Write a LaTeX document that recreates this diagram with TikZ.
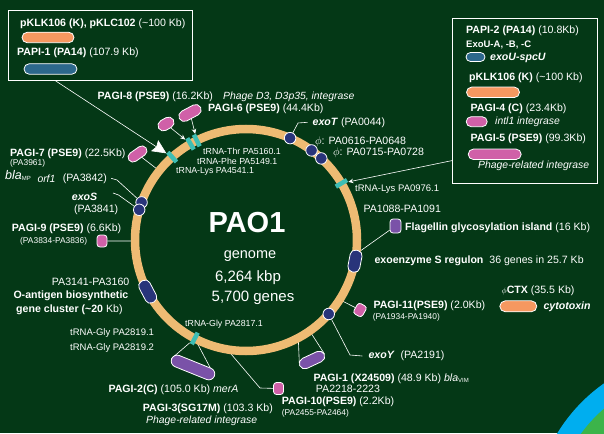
\documentclass[tikz,border=0pt]{standalone}
\usepackage{fontspec}
\setmainfont{Liberation Sans}
\usetikzlibrary{arrows.meta,shapes.misc,calc}

\definecolor{bggreen}{RGB}{4,56,22}
\definecolor{ringor}{RGB}{238,187,115}
\definecolor{trnateal}{RGB}{62,190,180}
\definecolor{navy}{RGB}{40,52,122}
\definecolor{islpurple}{RGB}{122,82,168}
\definecolor{islpink}{RGB}{208,96,168}
\definecolor{plorange}{RGB}{246,152,96}
\definecolor{plblue}{RGB}{44,104,140}
\definecolor{cornerblue}{RGB}{0,174,239}
\definecolor{cornergreen}{RGB}{60,180,74}

\pgfdeclarelayer{back}
\pgfsetlayers{back,main}

\tikzset{
  lbl/.style={text=white, inner sep=0pt, anchor=west, font=\fontsize{10.6}{12}\selectfont},
  itlbl/.style={lbl, font=\fontsize{10.4}{12}\selectfont\itshape},
  bilbl/.style={lbl, font=\fontsize{10.6}{12}\selectfont\bfseries\itshape},
  trlbl/.style={lbl, font=\fontsize{9.5}{11}\selectfont},
  smlbl/.style={lbl, font=\fontsize{8.8}{10}\selectfont},
  sublbl/.style={lbl, font=\fontsize{8.4}{10}\selectfont},
  pill/.style={rounded rectangle, draw=white, line width=0.8pt, inner sep=0pt, minimum height=10.5pt},
  island/.style={rectangle, rounded corners=3pt, draw=white, line width=0.8pt, inner sep=0pt},
  gene/.style={circle, fill=navy, draw=white, line width=0.8pt, inner sep=0pt, minimum size=11.5pt},
  trna/.style={rectangle, fill=trnateal, inner sep=0pt, minimum width=13pt, minimum height=4.5pt},
  lead/.style={draw=white, line width=0.6pt},
  legbox/.style={draw=white, line width=0.8pt, inner sep=0pt},
}

\newcommand{\blasub}[1]{\raisebox{-1pt}{\fontsize{6}{7}\selectfont #1}}

\begin{document}
\begin{tikzpicture}[x=1pt,y=-1pt]
  \useasboundingbox (0,0) rectangle (604,433);
  \begin{pgfonlayer}{back}
    \fill[bggreen] (0,0) rectangle (604,433);
    \begin{scope}
      \clip (0,0) rectangle (604,433);
      \fill[cornerblue] (700,520) circle[radius=167];
      \fill[cornergreen] (700,520) circle[radius=147];
    \end{scope}
  \end{pgfonlayer}

  \coordinate (c) at (246,240);
  \draw[ringor, line width=8.5pt] (c) circle[radius=111];

  \node[trna, rotate=131.7] (tLys) at ($(c)+(-131.7:111)$) {};
  \node[trna, rotate=120] (tThr) at ($(c)+(-120:111)$) {};
  \node[trna, rotate=116.3] (tPhe) at ($(c)+(-116.3:111)$) {};
  \node[trna, rotate=30.7] (tLysB) at ($(c)+(-30.7:111)$) {};
  \node[trna, rotate=-117.5] (tGly) at ($(c)+(117.5:111)$) {};

  \node[gene] (gExoT) at ($(c)+(-66.6:111)$) {};
  \node[gene] (gPhiA) at ($(c)+(-53.8:111)$) {};
  \node[gene] (gPhiB) at ($(c)+(-47.3:111)$) {};
  \node[gene] (gExoSa) at ($(c)+(-160.2:111)$) {};
  \node[gene] (gExoSb) at ($(c)+(-164.2:111)$) {};
  \node[gene] (gExoY) at ($(c)+(41.8:111)$) {};

  \node[island, rounded corners=5pt, fill=navy, minimum width=22pt, minimum height=12pt, rotate=79] (bExoS) at ($(c)+(11:111)$) {};
  \node[island, rounded corners=5pt, fill=navy, minimum width=24pt, minimum height=12pt, rotate=-62.3] (bOant) at ($(c)+(152.3:111)$) {};

  \coordinate (rFla) at ($(c)+(7.2:111)$);
  \coordinate (r9) at ($(c)+(179.5:111)$);
  \coordinate (r11) at ($(c)+(32.5:111)$);
  \coordinate (r10) at ($(c)+(99.8:111)$);
  \coordinate (r7) at ($(c)+(-141.4:111)$);
  \coordinate (rP1a) at ($(c)+(61.9:111)$);
  \coordinate (rP1b) at ($(c)+(55:111)$);
  \coordinate (kExoS) at (113,193);

  \node[island, fill=islpurple, minimum width=11pt, minimum height=14pt] (bFla) at (395.5,226) {};
  \node[island, fill=islpink, minimum width=10pt, minimum height=12pt] (pagi9) at (102,241) {};
  \node[island, fill=islpink, minimum width=10pt, minimum height=12pt, rotate=-30] (pagi11) at (360,310) {};
  \node[island, fill=islpink, minimum width=10pt, minimum height=12pt] (pagi10) at (278.5,388.5) {};
  \node[pill, fill=islpink, minimum width=21pt, minimum height=10pt, rotate=35] (pagi7) at (137.5,154) {};
  \node[pill, fill=islpink, minimum width=17pt, minimum height=11pt, rotate=30] (pagi8) at (166,124) {};
  \node[pill, fill=islpink, minimum width=24pt, minimum height=11pt, rotate=28] (pagi6) at (190,113) {};
  \node[pill, fill=islpurple, minimum width=46pt, minimum height=12pt, rotate=-22] (pagi2) at (193,367.5) {};
  \node[pill, fill=islpurple, minimum width=27pt, minimum height=11pt, rotate=25] (pagi1) at (312,360) {};

  \node[legbox, minimum width=184pt, minimum height=70pt] (tl) at (100.3,45) {};
  \node[legbox, minimum width=144.5pt, minimum height=164.7pt] (rb) at (524.7,100.6) {};

  \node[lbl] (lKlc) at (20,24) {\textbf{pKLK106 (K), pKLC102} (\textasciitilde100 Kb)};
  \node[pill, fill=plorange, minimum width=52pt] (plK) at (48,37.5) {};
  \node[lbl] (lPapi1) at (17,53) {\textbf{PAPI-1 (PA14)} (107.9 Kb)};
  \node[pill, fill=plblue, minimum width=53pt] (plP1) at (50.5,69) {};

  \node[lbl] (lPapi2) at (466,31) {\textbf{PAPI-2 (PA14)} (10.8Kb)};
  \node[lbl, font=\fontsize{9.5}{11}\selectfont\bfseries] (lExoU) at (466,45) {ExoU-A, -B, -C};
  \node[pill, fill=plblue, minimum width=19pt, minimum height=9pt] (plU) at (475.5,57) {};
  \node[bilbl] (lSpcU) at (490,58) {exoU-spcU};
  \node[lbl] (lKlk) at (469,78) {\textbf{pKLK106 (K)} (\textasciitilde100 Kb)};
  \node[pill, fill=plorange, minimum width=53pt] (plK2) at (493,92.3) {};
  \node[lbl] (lPagi4) at (470.5,108.3) {\textbf{PAGI-4 (C)} (23.4Kb)};
  \node[pill, fill=islpink, minimum width=21pt, minimum height=10pt] (pl4) at (476.7,121.7) {};
  \node[itlbl] (lInt) at (495,122) {intl1 integrase};
  \node[lbl] (lPagi5) at (470.5,138.3) {\textbf{PAGI-5 (PSE9)} (99.3Kb)};
  \node[pill, fill=islpink, minimum width=53pt] (pl5) at (494.7,154.3) {};
  \node[itlbl] (lPh5) at (478,166) {Phage-related integrase};

  \node[text=white, font=\fontsize{29}{31}\selectfont\bfseries] (pao) at (247,223) {PAO1};
  \node[text=white, font=\fontsize{14.5}{16}\selectfont] (gnm) at (250,256) {genome};
  \node[text=white, font=\fontsize{15}{17}\selectfont] (kbp) at (248,278) {6,264 kbp};
  \node[text=white, font=\fontsize{15}{17}\selectfont] (ngn) at (253,298) {5,700 genes};

  \node[lbl] (lPagi8) at (97.5,97) {\textbf{PAGI-8 (PSE9)} (16.2Kb)};
  \node[itlbl] (lPhD3) at (223,97) {Phage D3, D3p35, integrase};
  \node[lbl] (lPagi6) at (208,108.3) {\textbf{PAGI-6 (PSE9)} (44.4Kb)};
  \node[lbl] (lExoT) at (312.5,122.3) {\textbf{\itshape exoT} (PA0044)};
  \node[lbl] (lPhiA) at (315,141.7) {$\phi$: PA0616-PA0648};
  \node[lbl] (lPhiB) at (333,152.3) {$\phi$: PA0715-PA0728};
  \node[smlbl] (lThr) at (203,151.7) {tRNA-Thr PA5160.1};
  \node[smlbl] (lPhe) at (197,161.7) {tRNA-Phe PA5149.1};
  \node[smlbl] (lLys) at (176,171.7) {tRNA-Lys PA4541.1};

  \node[lbl] (lPagi7) at (10,153.3) {\textbf{PAGI-7 (PSE9)} (22.5Kb)};
  \node[sublbl] (lPa3961) at (10,163.5) {(PA3961)};
  \node[lbl, font=\fontsize{12.5}{14}\selectfont\itshape] (lBlaMP) at (5,175.5) {bla\blasub{\upshape MP}};
  \node[itlbl] (lOrf) at (37.3,178.3) {orf1};
  \node[lbl] (lOrfId) at (62.7,178.3) {(PA3842)};
  \node[bilbl] (lExoS) at (71.7,196.7) {exoS};
  \node[lbl] (lExoSId) at (74,210) {(PA3841)};
  \node[lbl] (lPagi9) at (11.7,228.3) {\textbf{PAGI-9 (PSE9)} (6.6Kb)};
  \node[sublbl] (lPa3834) at (20,241.7) {(PA3834-PA3836)};
  \node[lbl] (lPa3141) at (51.7,281.7) {PA3141-PA3160};
  \node[lbl, font=\fontsize{10.6}{12}\selectfont\bfseries] (lOant) at (13.3,295.7) {O-antigen biosynthetic};
  \node[lbl] (lGc) at (16,309.5) {\textbf{gene cluster (\textasciitilde20} Kb)};

  \node[trlbl] (lGlyA) at (70,333.3) {tRNA-Gly PA2819.1};
  \node[trlbl] (lGlyB) at (70,347.7) {tRNA-Gly PA2819.2};
  \node[smlbl] (lGlyC) at (185,324) {tRNA-Gly PA2817.1};
  \node[lbl] (lPagi2) at (108.3,390) {\textbf{PAGI-2(C)} (105.0 Kb) \textit{merA}};
  \node[lbl] (lPagi3) at (142.7,408.3) {\textbf{PAGI-3(SG17M)} (103.3 Kb)};
  \node[itlbl] (lPh3) at (146,420.7) {Phage-related integrase};
  \node[lbl] (lPagi10) at (281.7,401.7) {\textbf{PAGI-10(PSE9)} (2.2Kb)};
  \node[sublbl] (lPa2455) at (281.7,413.3) {(PA2455-PA2464)};
  \node[lbl] (lPagi1) at (313.3,378.3) {\textbf{PAGI-1 (X24509)} (48.9 Kb) \textit{bla}\blasub{VIM}};
  \node[lbl] (lPa2218) at (315.7,389.3) {PA2218-2223};
  \node[lbl] (lExoY) at (368.3,356) {\textbf{\itshape exoY}\ \ (PA2191)};
  \node[lbl] (lPagi11) at (373.3,305.7) {\textbf{PAGI-11(PSE9)} (2.0Kb)};
  \node[sublbl] (lPa1934) at (372.7,317.3) {(PA1934-PA1940)};

  \node[lbl] (lCtx) at (501.5,290.7) {{\fontsize{8}{9}\selectfont$\phi$}\textbf{CTX} (35.5 Kb)};
  \node[pill, fill=plorange, minimum width=37pt, minimum height=11pt] (plCtx) at (518.3,306.3) {};
  \node[bilbl] (lCyto) at (543.3,306.7) {cytotoxin};
  \node[lbl] (lExoReg) at (374.3,261) {\textbf{exoenzyme S regulon}\ \ 36 genes in 25.7 Kb};
  \node[lbl] (lFla) at (405,227.7) {\textbf{Flagellin glycosylation island} (16 Kb)};
  \node[lbl] (lPa1088) at (363.3,209.3) {PA1088-PA1091};
  \node[trlbl] (lLysB) at (355,189.3) {tRNA-Lys PA0976.1};

  \begin{pgfonlayer}{back}
    \draw[lead] (bFla) -- (rFla);
    \draw[lead] (pagi9) -- (r9);
    \draw[lead] (pagi11) -- (r11);
    \draw[lead] (pagi7) -- (r7);
    \draw[lead] (r10) -- (260,388) -- (pagi10);
    \draw[lead] (tGly) -- (pagi2.west);
    \draw[lead] (tGly) -- (pagi2.east);
    \draw[lead] (rP1a) -- (pagi1.west);
    \draw[lead] (rP1b) -- (pagi1.east);
    \draw[lead] (gExoT) -- (298,123) -- ([xshift=-5pt]lExoT.west);
    \draw[lead] ([xshift=4pt]lOrfId.east) -- (117,180) -- (gExoSa);
    \draw[lead] (kExoS) -- (118.5,195) -- (gExoSb);
    \draw[lead] (gExoY) -- (350,355) -- ([xshift=-6pt]lExoY.west);
  \end{pgfonlayer}

  \draw[lead, -{Stealth[length=5pt,width=4.5pt]}] (pagi8) -- (tThr);
  \draw[lead, -{Stealth[length=5pt,width=4.5pt]}] (pagi6) -- (tPhe);
  \draw[lead, -{Stealth[length=14pt,width=13pt,inset=2pt]}] ([xshift=47pt]tl.south west) -- (tLys);
  \draw[lead, -{Stealth[length=5pt,width=4.5pt]}] ([yshift=-60pt]rb.west) -- (tLysB);
\end{tikzpicture}
\end{document}
